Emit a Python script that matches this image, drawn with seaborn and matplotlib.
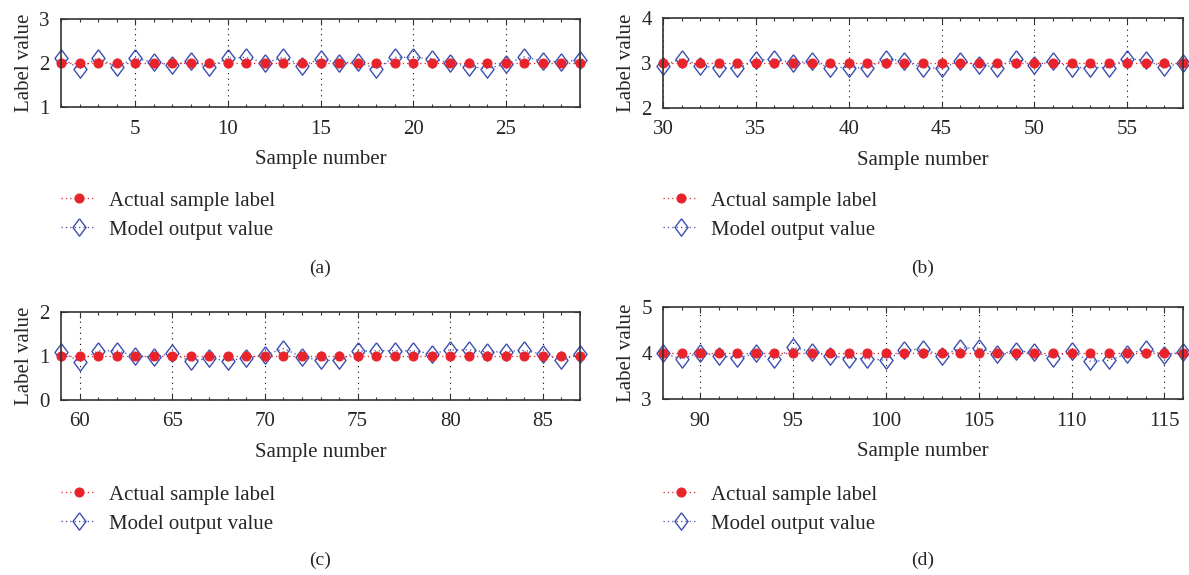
import matplotlib
matplotlib.use("Agg")
import matplotlib.pyplot as plt
from matplotlib.ticker import MultipleLocator
import pandas as pd
import seaborn as sns

# sample numbers per panel
samples_a = list(range(1, 30))
samples_b = list(range(30, 59))
samples_c = list(range(59, 88))
samples_d = list(range(88, 117))

# actual class labels
actual_a = [2] * 29
actual_b = [3] * 29
actual_c = [1] * 29
actual_d = [4] * 29

# model outputs
model_a = [2.12, 1.87, 2.12, 1.90, 2.11, 2.02, 1.95, 2.05, 1.90, 2.11,
           2.13, 2.00, 2.13, 1.94, 2.09, 2.00, 2.02, 1.87, 2.13, 2.13,
           2.10, 2.00, 1.92, 1.87, 1.98, 2.14, 2.04, 2.03, 2.07]
model_b = [2.93, 3.10, 2.94, 2.89, 2.88, 3.06, 3.09, 3.00, 3.04, 2.90,
           2.90, 2.89, 3.10, 3.04, 2.90, 2.88, 3.04, 2.96, 2.90, 3.10,
           2.96, 3.04, 2.90, 2.90, 2.90, 3.10, 3.06, 2.91, 3.01]
model_c = [1.10, 0.87, 1.12, 1.12, 1.00, 0.98, 1.06, 0.88, 0.95, 0.89,
           0.96, 1.02, 1.17, 0.98, 0.90, 0.90, 1.11, 1.12, 1.12, 1.12,
           1.05, 1.14, 1.14, 1.09, 1.10, 1.13, 1.04, 0.91, 1.05]
model_d = [4.00, 3.87, 4.01, 3.94, 3.89, 3.99, 3.86, 4.12, 4.03, 3.94,
           3.88, 3.88, 3.84, 4.06, 4.09, 3.94, 4.11, 4.11, 3.98, 4.04,
           4.02, 3.90, 4.04, 3.82, 3.84, 3.98, 4.08, 3.96, 4.02]

y_ranges = [(1, 3), (2, 4), (0, 2), (3, 5)]
captions = ["(a)", "(b)", "(c)", "(d)"]

sns.set_style("ticks")
plt.rcParams["font.family"] = ["Liberation Serif", "DejaVu Serif"]
plt.rcParams["font.size"] = 14

W, H = 1189, 575
fig = plt.figure(figsize=(W / 100, H / 100), dpi=100)

# axes boxes in pixels: left, top, right, bottom
boxes = [(61, 19, 580, 107), (663, 18, 1183, 108),
         (61, 312, 580, 400), (663, 307, 1183, 399)]
legend_tops = [191, 191, 485, 485]
caption_y = [268, 268, 560, 560]

panels = [(samples_a, actual_a, model_a), (samples_b, actual_b, model_b),
          (samples_c, actual_c, model_c), (samples_d, actual_d, model_d)]

red = "#e8232b"
blue = "#3c4fae"
diamond = [(0, 1), (0.75, 0), (0, -1), (-0.75, 0), (0, 1)]

for i, (xs, act, mod) in enumerate(panels):
    l, t, r, b = boxes[i]
    ax = fig.add_axes([l / W, 1 - b / H, (r - l) / W, (b - t) / H])
    df = pd.DataFrame({"sample": xs, "actual": act, "model": mod})

    sns.lineplot(data=df, x="sample", y="model", ax=ax, color=blue,
                 linestyle=(0, (1, 2.5)), linewidth=0.9, marker=diamond,
                 markersize=12.5, markerfacecolor="none", markeredgecolor=blue,
                 markeredgewidth=1.0, clip_on=False, label="Model output value")
    sns.lineplot(data=df, x="sample", y="actual", ax=ax, color=red,
                 linestyle=(0, (1, 2.5)), linewidth=0.9, marker="o",
                 markersize=6.5, markerfacecolor=red, markeredgecolor=red,
                 clip_on=False, label="Actual sample label")

    ax.set_xlim(xs[0], xs[-1])
    ax.set_ylim(*y_ranges[i])
    ax.set_yticks(range(y_ranges[i][0], y_ranges[i][1] + 1))
    ax.xaxis.set_major_locator(MultipleLocator(5))
    ax.xaxis.set_minor_locator(MultipleLocator(1))
    ax.tick_params(which="both", direction="in", top=True, right=True,
                   labelsize=15, width=0.8, color="#333333")
    ax.tick_params(axis="x", which="major", length=4, pad=9)
    ax.tick_params(axis="y", which="major", length=4, pad=8)
    ax.tick_params(which="minor", length=2.5)
    ax.grid(axis="x", which="major", color="black", linestyle=(0, (1, 4)),
            linewidth=0.8)
    for s in ax.spines.values():
        s.set_linewidth(1.2)
        s.set_color("#333333")
    ax.set_xlabel("Sample number", fontsize=15, labelpad=8)
    ax.set_ylabel("Label value", fontsize=15, labelpad=4)

    handles, labels = ax.get_legend_handles_labels()
    order = [labels.index("Actual sample label"), labels.index("Model output value")]
    ax.legend([handles[k] for k in order], [labels[k] for k in order],
              loc="upper left", bbox_to_anchor=(l / W, 1 - legend_tops[i] / H),
              bbox_transform=fig.transFigure, frameon=False, fontsize=15,
              handlelength=1.7, handletextpad=0.6, borderpad=0,
              borderaxespad=0, labelspacing=0.45)

    fig.text((l + r) / 2 / W, 1 - caption_y[i] / H, captions[i],
             ha="center", va="center", fontsize=14)

fig.savefig("out.png", dpi=100)
